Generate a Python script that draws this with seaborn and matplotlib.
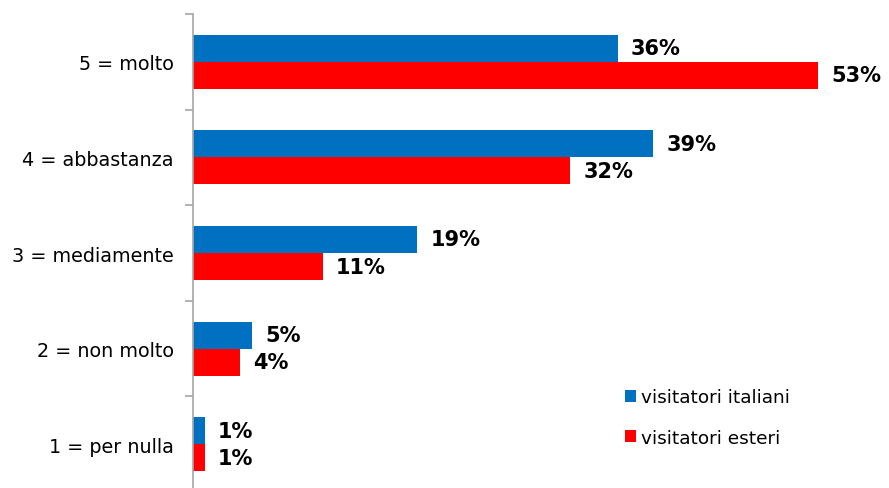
import matplotlib
matplotlib.use("Agg")
import matplotlib.pyplot as plt
from matplotlib.patches import Patch
from matplotlib.ticker import FixedLocator
import seaborn as sns
import pandas as pd

categories = ["5 = molto", "4 = abbastanza", "3 = mediamente", "2 = non molto", "1 = per nulla"]
series = ["visitatori italiani", "visitatori esteri"]
italiani = [36, 39, 19, 5, 1]
esteri = [53, 32, 11, 4, 1]
colors = ["#0070C0", "#FF0000"]

df = pd.DataFrame({
    "categoria": categories * 2,
    "valore": italiani + esteri,
    "serie": [series[0]] * len(categories) + [series[1]] * len(categories),
})

sns.set_theme(style="white")
plt.rcParams["font.family"] = ["DejaVu Sans"]

W, H = 889, 489
fig = plt.figure(figsize=(W / 100, H / 100), dpi=100)
ax = fig.add_axes([193 / W, (H - 493) / H, (877 - 193) / W, 478 / H])

sns.barplot(data=df, y="categoria", x="valore", hue="serie", order=categories,
            hue_order=series, palette=colors, orient="h", width=0.565,
            saturation=1, linewidth=0, edgecolor="none", ax=ax, legend=False)

ax.set_xlim(0, 58)
ax.set_ylim(len(categories) - 0.5, -0.5)
ax.set_xlabel("")
ax.set_ylabel("")
ax.set_xticks([])

for side in ["top", "right", "bottom"]:
    ax.spines[side].set_visible(False)
ax.spines["left"].set_color("#A6A6A6")
ax.spines["left"].set_linewidth(1.2)

ax.tick_params(axis="y", which="major", length=0, pad=14, labelsize=13.8, labelcolor="#000000")
ax.yaxis.set_minor_locator(FixedLocator([i - 0.5 for i in range(len(categories) + 1)]))
ax.tick_params(axis="y", which="minor", length=6, width=1.2, color="#A6A6A6", left=True)

for container in ax.containers:
    ax.bar_label(container, labels=[f"{v:.0f}%" for v in container.datavalues],
                 padding=9.5, fontsize=15, fontweight="bold", color="#000000")

handles = [Patch(facecolor=c, edgecolor="none") for c in colors]
fig.legend(handles, series, loc="upper left", bbox_to_anchor=(618 / W, 1 - 382 / H),
           frameon=False, fontsize=13.3, labelcolor="#000000", handlelength=0.6,
           handleheight=0.6, handletextpad=0.25, labelspacing=1.2, borderaxespad=0)

fig.savefig("out.png", dpi=100, facecolor="white")
